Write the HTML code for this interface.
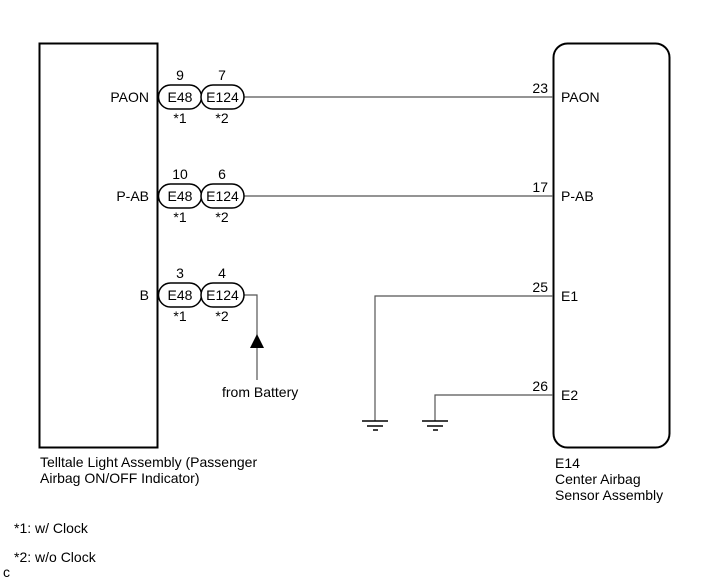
<!DOCTYPE html>
<html><head><meta charset="utf-8"><style>
html,body{margin:0;padding:0;background:#fff;width:711px;height:579px;overflow:hidden}
svg{display:block}
text{font-family:"Liberation Sans",Arial,sans-serif;font-size:14px;fill:#000}
</style></head><body>
<svg width="711" height="579" viewBox="0 0 711 579" xmlns="http://www.w3.org/2000/svg">
<rect x="39.5" y="43.5" width="118" height="404" fill="none" stroke="#000" stroke-width="2"/>
<rect x="553.5" y="43.5" width="116" height="404" rx="14" fill="none" stroke="#000" stroke-width="2"/>
<g stroke="#555" stroke-width="1.2" fill="none">
<line x1="244" y1="97" x2="553" y2="97"/>
<line x1="244" y1="196" x2="553" y2="196"/>
<polyline points="244,295 257,295 257,380"/>
<polyline points="553,296 375,296 375,421"/>
<polyline points="553,395 435,395 435,421"/>
</g>
<polygon points="257,334 250,348 264,348" fill="#000"/>
<g stroke="#000" stroke-width="1.5">
<line x1="362" y1="421" x2="388" y2="421"/><line x1="367" y1="426" x2="383" y2="426"/><line x1="373" y1="430" x2="378" y2="430"/>
<line x1="422" y1="421" x2="448" y2="421"/><line x1="427" y1="426" x2="443" y2="426"/><line x1="433" y1="430" x2="438" y2="430"/>
</g>
<g fill="#fff" stroke="#000" stroke-width="1.5">
<rect x="158.5" y="85" width="43" height="24" rx="12"/><rect x="201" y="85" width="43" height="24" rx="12"/>
<rect x="158.5" y="184" width="43" height="24" rx="12"/><rect x="201" y="184" width="43" height="24" rx="12"/>
<rect x="158.5" y="283" width="43" height="24" rx="12"/><rect x="201" y="283" width="43" height="24" rx="12"/>
</g>
<g text-anchor="middle">
<text x="180" y="102">E48</text><text x="222.5" y="102">E124</text>
<text x="180" y="201">E48</text><text x="222.5" y="201">E124</text>
<text x="180" y="300">E48</text><text x="222.5" y="300">E124</text>
<text x="180" y="80">9</text><text x="222" y="80">7</text>
<text x="180" y="179">10</text><text x="222" y="179">6</text>
<text x="180" y="278">3</text><text x="222" y="278">4</text>
<text x="180" y="123">*1</text><text x="222" y="123">*2</text>
<text x="180" y="222">*1</text><text x="222" y="222">*2</text>
<text x="180" y="321">*1</text><text x="222" y="321">*2</text>
</g>
<g text-anchor="end">
<text x="149" y="102">PAON</text><text x="149" y="201">P-AB</text><text x="149" y="300">B</text>
<text x="548" y="93">23</text><text x="548" y="192">17</text><text x="548" y="292">25</text><text x="548" y="391">26</text>
</g>
<text x="561" y="102">PAON</text><text x="561" y="201">P-AB</text><text x="561" y="301">E1</text><text x="561" y="400">E2</text>
<text x="222" y="397">from Battery</text>
<text x="40" y="467">Telltale Light Assembly (Passenger</text>
<text x="40" y="483">Airbag ON/OFF Indicator)</text>
<text x="555" y="468">E14</text><text x="555" y="484">Center Airbag</text><text x="555" y="500">Sensor Assembly</text>
<text x="14" y="533">*1: w/ Clock</text>
<text x="14" y="562">*2: w/o Clock</text>
<text x="3" y="577">c</text>
</svg>
</body></html>
